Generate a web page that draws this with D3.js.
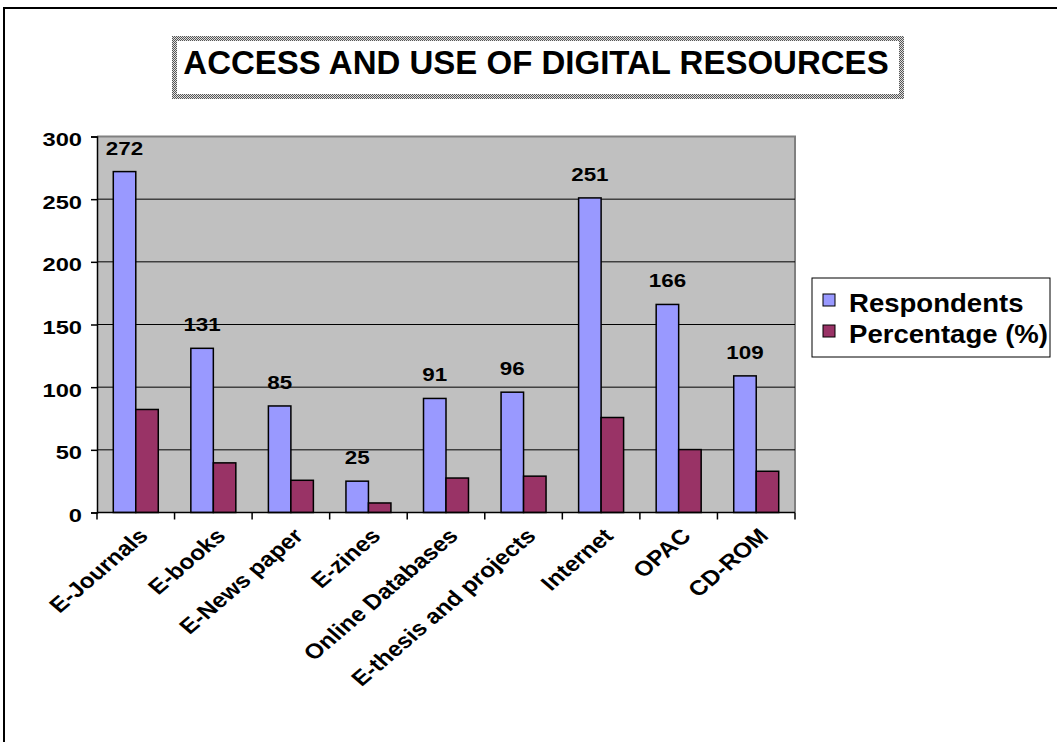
<!DOCTYPE html>
<html lang="en">
<head>
<meta charset="UTF-8">
<script src="https://d3js.org/d3.v7.min.js"></script>
<title>Access and use of digital resources</title>
<style>
  body { margin: 0; background: #fff; }
  text { font-family: "Liberation Sans", Arial, sans-serif; font-weight: bold; fill: #000; }
</style>
</head>
<body>
<div id="canvas"></div>
<script>
// data
const categories = ["E-Journals", "E-books", "E-News paper", "E-zines", "Online Databases",
                    "E-thesis and projects", "Internet", "OPAC", "CD-ROM"]
const respondents = [272, 131, 85, 25, 91, 96, 251, 166, 109]
const percentage = [82.2, 39.6, 25.7, 7.6, 27.5, 29.0, 75.8, 50.2, 32.9]
const seriesNames = ["Respondents", "Percentage (%)"]
const seriesColors = ["#9999FF", "#993366"]
const yTicks = [0, 50, 100, 150, 200, 250, 300]
const chartTitle = "ACCESS AND USE OF DIGITAL RESOURCES"

const W = 1057, H = 742
const plot = {left: 97, right: 795, top: 136.5, bottom: 512.5}
const sx = 1.28   // numbers in the original are stretched sideways

const svg = d3.select("#canvas").append("svg").attr("width", W).attr("height", H)

// dithered grey frame for the title box
const pat = svg.append("defs").append("pattern")
    .attr("id", "dither").attr("width", 2).attr("height", 2)
    .attr("patternUnits", "userSpaceOnUse")
pat.append("rect").attr("width", 2).attr("height", 2).attr("fill", "#e0e0e0")
pat.append("rect").attr("width", 1).attr("height", 1).attr("fill", "#555")
pat.append("rect").attr("x", 1).attr("y", 1).attr("width", 1).attr("height", 1).attr("fill", "#555")

// outer chart frame
svg.append("rect")
    .attr("x", 4).attr("y", 8).attr("width", W + 10).attr("height", H + 10)
    .attr("fill", "#fff").attr("stroke", "#000").attr("stroke-width", 2)

// title
svg.append("rect")
    .attr("x", 174.5).attr("y", 38.5).attr("width", 727).attr("height", 58)
    .attr("fill", "#fff").attr("stroke", "url(#dither)").attr("stroke-width", 5)
svg.append("text")
    .attr("x", 536).attr("y", 74)
    .attr("text-anchor", "middle")
    .style("font-size", "33px")
    .text(chartTitle)

const x0 = d3.scaleBand().domain(categories).range([plot.left, plot.right])
const x1 = d3.scaleBand().domain(seriesNames)
    .range([x0.bandwidth() * 0.21, x0.bandwidth() * 0.79])
const y = d3.scaleLinear().domain([0, 300]).range([plot.bottom, plot.top])

// plot area
svg.append("rect")
    .attr("x", plot.left).attr("y", plot.top)
    .attr("width", plot.right - plot.left).attr("height", plot.bottom - plot.top)
    .attr("fill", "#C0C0C0")
svg.append("path")
    .attr("d", `M${plot.left},${plot.top}H${plot.right}V${plot.bottom}`)
    .attr("fill", "none").attr("stroke", "#808080").attr("stroke-width", 2)

// gridlines
svg.append("g").selectAll("line")
    .data(yTicks.filter(t => t > 0 && t < 300))
    .join("line")
    .attr("x1", plot.left).attr("x2", plot.right)
    .attr("y1", d => y(d)).attr("y2", d => y(d))
    .attr("stroke", "#000").attr("stroke-width", 1)

// bars
const rows = categories.map((c, i) => ({cat: c, values: [respondents[i], percentage[i]]}))
const groups = svg.append("g").selectAll("g")
    .data(rows).join("g")
    .attr("transform", d => `translate(${x0(d.cat)},0)`)
groups.selectAll("rect")
    .data(d => d.values.map((v, k) => ({name: seriesNames[k], v: v, k: k})))
    .join("rect")
    .attr("x", d => x1(d.name))
    .attr("width", x1.bandwidth())
    .attr("y", d => y(d.v))
    .attr("height", d => y(0) - y(d.v))
    .attr("fill", d => seriesColors[d.k])
    .attr("stroke", "#000").attr("stroke-width", 1.5)

// value labels on respondents
svg.append("g").selectAll("text")
    .data(rows).join("text")
    .attr("transform", d => `translate(${x0(d.cat) + x1("Respondents") + x1.bandwidth() / 2},${y(d.values[0]) - 17}) scale(${sx},1)`)
    .attr("text-anchor", "middle")
    .style("font-size", "17.5px")
    .text(d => d.values[0])

// y axis
const gy = svg.append("g")
    .attr("transform", `translate(${plot.left},0)`)
    .call(d3.axisLeft(y).tickValues(yTicks).tickSize(6).tickPadding(0).tickFormat(d3.format("d")))
gy.select(".domain").attr("stroke", "#000").attr("stroke-width", 1.5)
gy.selectAll(".tick line").attr("stroke", "#000").attr("stroke-width", 1.5)
gy.selectAll(".tick text")
    .attr("x", null).attr("dy", null)
    .attr("transform", `translate(-15,9) scale(${sx},1)`)
    .style("font-size", "18.5px")
    .style("font-family", null)

// x axis, ticks between categories
const gx = svg.append("g")
    .attr("transform", `translate(0,${plot.bottom})`)
gx.append("line")
    .attr("x1", plot.left).attr("x2", plot.right)
    .attr("stroke", "#000").attr("stroke-width", 1.5)
gx.selectAll(".tk")
    .data(categories.concat(["end"]))
    .join("line").attr("class", "tk")
    .attr("x1", (d, i) => i < categories.length ? x0(d) : plot.right)
    .attr("x2", (d, i) => i < categories.length ? x0(d) : plot.right)
    .attr("y1", 0).attr("y2", 7)
    .attr("stroke", "#000").attr("stroke-width", 1.5)
gx.selectAll(".lbl")
    .data(categories)
    .join("text").attr("class", "lbl")
    .attr("transform", d => `translate(${x0(d) + x0.bandwidth() / 2 + 1},14) scale(1.17,1) rotate(-45)`)
    .attr("text-anchor", "end")
    .attr("dy", "0.72em")
    .style("font-size", "21px")
    .text(d => d)

// legend
const lg = svg.append("g").attr("transform", "translate(812,278)")
lg.append("rect")
    .attr("width", 238).attr("height", 79)
    .attr("fill", "#fff").attr("stroke", "#000").attr("stroke-width", 1)
seriesNames.forEach((s, i) => {
    lg.append("rect")
        .attr("x", 11).attr("y", 16 + i * 31).attr("width", 12).attr("height", 12)
        .attr("fill", seriesColors[i]).attr("stroke", "#000").attr("stroke-width", 1)
    lg.append("text")
        .attr("transform", `translate(37,${34 + i * 31}) scale(1.06,1)`)
        .style("font-size", "26px")
        .text(s)
})
</script>
</body>
</html>
